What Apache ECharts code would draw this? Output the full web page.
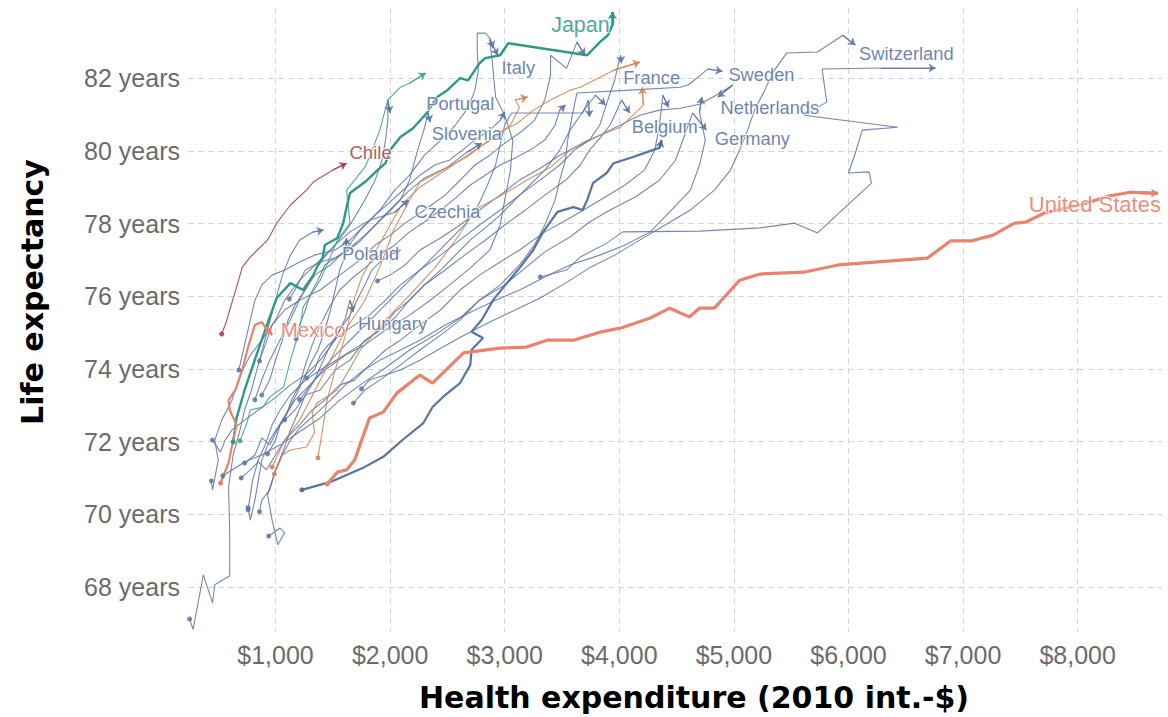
<!DOCTYPE html>
<html>
<head>
<meta charset="utf-8">
<title>Life expectancy vs health expenditure</title>
<script src="https://cdn.jsdelivr.net/npm/echarts@6/dist/echarts.min.js"></script>
<style>
  html, body { margin: 0; padding: 0; background: #fff; }
  #chart { width: 1168px; height: 717px; }
</style>
</head>
<body>
<div id="chart"></div>
<script>
// [health expenditure (2010 int.-$), life expectancy (years)]
const unitedStates = [[1450,70.83],[1540,71.16],[1620,71.22],[1690,71.49],[1820,72.65],[1940,72.81],[2060,73.34],[2260,73.83],[2370,73.61],[2640,74.44],[2960,74.57],[3190,74.6],[3370,74.79],[3600,74.79],[3830,75.01],[4010,75.12],[4270,75.4],[4440,75.67],[4610,75.43],[4700,75.67],[4830,75.67],[5050,76.44],[5230,76.61],[5610,76.66],[5910,76.86],[6690,77.05],[6890,77.52],[7070,77.52],[7260,77.68],[7450,78.01],[7550,78.04],[7710,78.29],[8020,78.51],[8280,78.76],[8460,78.86],[8700,78.83]]
const japan = [[630,71.99],[660,72.65],[730,73.42],[840,74.44],[950,75.43],[1010,75.95],[1130,76.36],[1240,76.17],[1330,76.58],[1360,76.8],[1410,77.05],[1430,77.41],[1540,77.6],[1590,78.01],[1620,78.45],[1650,78.84],[1780,79.14],[1890,79.47],[1960,79.66],[2000,80.02],[2090,80.38],[2200,80.62],[2320,81.04],[2410,81.48],[2500,81.67],[2610,82.0],[2680,81.94],[2780,82.41],[2830,82.55],[2960,82.63],[3030,82.96],[3720,82.63],[3830,82.99],[3900,83.18],[3940,83.46],[3940,83.82]]
const chile = [[530,74.96],[570,75.29],[600,75.62],[660,76.25],[710,76.8],[780,77.08],[930,77.54],[1010,78.01],[1130,78.51],[1270,78.92],[1330,79.14],[1500,79.47],[1620,79.66]]
const mexico = [[520,70.86],[590,71.41],[630,72.04],[660,72.46],[600,72.87],[590,73.14],[650,73.42],[710,73.97],[760,74.6],[820,75.21],[880,75.29],[910,75.15],[970,74.93]]
const belgium = [[1230,70.67],[1480,70.89],[1760,71.27],[1940,71.58],[2110,72.05],[2290,72.51],[2370,72.95],[2480,73.28],[2610,73.61],[2700,74.11],[2710,74.52],[2810,74.85],[2710,75.02],[2800,75.35],[2900,75.9],[2990,76.25],[3130,76.78],[3250,77.27],[3330,77.74],[3460,78.32],[3600,78.45],[3680,78.37],[3720,78.65],[3770,79.11],[3890,79.39],[3950,79.66],[4120,79.83],[4290,80.02],[4350,80.08],[4370,80.29]]
const czechia = [[440,70.92],[450,70.67],[500,71.49],[470,72.04],[530,72.59],[620,73.14],[690,73.83],[780,74.38],[880,74.79],[1000,75.34],[1080,75.89],[1210,76.44],[1370,76.94],[1520,77.41],[1650,77.77],[1820,78.09],[2040,78.31],[2160,78.64]]
const hungary = [[450,72.04],[520,71.71],[560,72.04],[620,72.32],[730,72.59],[850,72.87],[970,73.14],[1130,73.56],[1260,73.83],[1390,74.24],[1520,74.79],[1610,75.4],[1650,75.89],[1680,75.56]]
const germany = [[540,71.06],[620,71.22],[730,71.44],[880,71.63],[1040,71.91],[1210,72.27],[1390,72.65],[1560,73.14],[1740,73.56],[1960,74.03],[2170,74.52],[2390,74.93],[2610,75.4],[2780,75.89],[3000,76.31],[3180,76.78],[3350,77.22],[3570,77.63],[3740,78.04],[3920,78.37],[4140,78.73],[4350,79.19],[4490,79.74],[4570,80.43],[4640,81.04],[4760,80.57]]
const italy = [[680,73.97],[720,74.52],[760,75.07],[820,75.89],[880,76.31],[970,76.58],[1080,76.72],[1210,76.94],[1340,77.13],[1520,77.27],[1650,77.54],[1780,77.96],[1910,78.37],[2040,78.92],[2170,79.33],[2300,79.88],[2440,80.29],[2570,80.71],[2680,81.18],[2740,81.67],[2770,82.22],[2760,82.77],[2760,83.24],[2830,83.24],[2870,83.1],[2900,82.83]]
const slovenia = [[1120,75.92],[1170,76.17],[1260,76.72],[1390,76.94],[1520,77.05],[1650,77.33],[1780,77.68],[1910,78.09],[2040,78.51],[2170,78.92],[2300,79.25],[2500,79.55],[2670,79.96],[2800,80.21]]
const portugal = [[1180,74.83],[1210,75.21],[1260,75.62],[1300,76.03],[1370,76.44],[1430,76.86],[1520,77.05],[1630,77.25],[1740,77.52],[1870,77.95],[2000,78.35],[2090,78.65],[2170,79.2],[2240,80.02],[2300,80.63],[2330,81.04],[2350,80.79]]
const france = [[1270,73.75],[1340,73.97],[1390,74.38],[1460,74.66],[1560,74.93],[1690,75.21],[1820,75.48],[1960,75.89],[2090,76.31],[2260,76.72],[2440,77.13],[2610,77.55],[2780,77.96],[2960,78.37],[3130,78.78],[3310,79.2],[3480,79.61],[3610,80.02],[3740,80.3],[3830,80.71],[3900,81.4],[3960,81.95],[4010,82.63],[4020,82.41]]
const sweden = [[1680,73.06],[1780,73.42],[1910,73.69],[2090,74.11],[2260,74.52],[2440,74.93],[2610,75.34],[2780,75.89],[2960,76.31],[3130,76.86],[3260,77.41],[3350,77.96],[3440,78.65],[3480,79.2],[3530,79.75],[3550,80.3],[3590,80.98],[3630,81.59],[4090,81.67],[4530,81.75],[4600,81.81],[4690,82.03],[4770,82.25],[4900,82.19]]
const switzerland = [[1750,73.45],[1820,73.7],[1960,73.83],[2090,73.97],[2260,74.24],[2440,74.57],[2650,74.93],[2870,75.29],[3090,75.62],[3310,75.95],[3530,76.36],[3740,76.78],[3960,77.13],[4180,77.55],[4400,77.96],[4620,78.37],[4830,78.92],[4970,79.47],[5050,80.02],[5120,80.57],[5180,81.12],[5270,81.67],[5340,82.16],[5460,82.69],[5730,82.72],[5950,83.18],[6060,82.91]]
const netherlands = [[1890,76.42],[2000,76.58],[2130,76.86],[2260,77.27],[2440,77.6],[2610,77.96],[2780,78.37],[2960,78.78],[3130,79.2],[3310,79.52],[3480,79.88],[3660,80.16],[3830,80.43],[4010,80.71],[4180,80.98],[4350,81.12],[4530,81.17],[4700,81.28],[4830,81.5],[4990,81.81],[4860,81.48]]
const poland = [[930,71.66],[1000,72.04],[1040,72.46],[1110,72.87],[1180,73.28],[1240,73.69],[1300,74.11],[1370,74.52],[1430,75.07],[1480,75.62],[1520,76.17],[1560,76.72],[1610,77.13],[1620,77.6]]
// unlabelled trajectories
const trail01 = [[250,67.12],[280,66.83],[370,68.33],[450,67.56],[470,68.06],[600,68.31],[600,69.49],[590,70.75],[630,71.63],[690,72.32],[730,72.87],[790,73.42],[860,74.24],[930,75.07],[1000,75.89],[1060,76.58],[1130,77.13],[1210,77.54],[1320,77.76],[1420,77.82]]
const trail02 = [[700,71.0],[780,71.22],[850,71.44],[920,71.22],[1000,71.63],[1080,72.04],[1210,72.46],[1320,72.87],[1430,73.14],[1560,73.56],[1690,73.69],[1820,74.11],[1960,74.52],[2090,74.79],[2260,75.21],[2440,75.62],[2610,76.17],[2780,76.58],[2960,76.94],[3130,77.27],[3350,77.77],[3570,78.15],[3830,78.64],[4050,79.06],[4220,79.47],[4310,80.02],[4350,80.71],[4380,81.53],[4430,81.2]]
const trail03 = [[730,71.41],[820,71.63],[880,72.1],[950,71.91],[1040,72.46],[1170,72.87],[1260,73.28],[1390,73.42],[1520,73.97],[1650,74.24],[1780,74.79],[1910,75.07],[2040,75.56],[2170,75.89],[2300,76.31],[2480,76.72],[2650,77.13],[2830,77.54],[3000,77.96],[3180,78.37],[3350,78.78],[3530,79.19],[3660,79.61],[3740,80.02],[3830,80.35],[3920,80.71],[4020,81.4],[4090,81.04]]
const trail04 = [[760,70.18],[780,69.84],[820,70.39],[850,70.94],[880,71.49],[950,72.04],[1060,72.59],[1170,73.14],[1300,73.56],[1430,73.97],[1610,74.38],[1780,74.66],[1960,75.07],[2170,75.48],[2350,75.89],[2520,76.31],[2700,76.78],[2870,77.27],[2960,77.96],[3000,78.64],[3050,79.47],[3070,80.29],[3000,80.98],[2920,81.48],[2890,82.5],[2870,83.05],[2940,82.63]]
const trail05 = [[860,70.07],[880,70.39],[950,70.67],[1000,71.22],[1060,71.63],[1130,72.04],[1210,72.37],[1340,72.73],[1480,73.14],[1610,73.56],[1750,73.92],[1910,74.24],[2090,74.52],[2260,74.79],[2480,75.21],[2700,75.56],[2920,75.89],[3130,76.17],[3350,76.53],[3570,76.86],[3830,77.13],[4050,77.41],[4270,77.77],[4440,78.32],[4620,78.92],[4700,79.61],[4750,80.29],[4700,81.07],[4720,81.48]]
const trail06 = [[940,69.4],[1040,69.62],[1080,69.49],[1020,69.16],[970,69.84],[930,70.53],[1000,71.22],[1070,71.77],[1130,72.32],[1200,72.82],[1260,73.28],[1340,73.69],[1410,74.19],[1480,74.66],[1560,75.07],[1650,75.48],[1720,75.95],[1780,76.31],[1840,76.72],[1910,76.94],[2000,77.13],[2090,77.27]]
const trail07 = [[860,74.22],[910,74.66],[970,75.21],[1080,75.62],[1210,75.89],[1390,76.17],[1560,76.58],[1740,77.0],[1870,77.41],[2000,77.68],[2130,78.01],[2300,78.37],[2480,78.78],[2610,79.19],[2740,79.61],[2870,79.88],[3000,80.21],[3130,80.49],[3260,80.84],[3350,81.4],[3400,82.08],[3400,82.63],[3540,82.27],[3630,82.99],[3700,82.63]]
const trail08 = [[3310,76.53],[3540,76.72],[3660,77.08],[3890,77.46],[4030,77.77],[4700,77.79],[5230,77.88],[5530,78.01],[5730,77.74],[6200,79.11],[6180,79.42],[6000,79.39],[6060,79.94],[6120,80.57],[6430,80.65],[5610,80.98],[5810,81.34],[5770,82.25],[6280,82.28],[6760,82.28]]
const trail09 = [[820,73.15],[880,73.7],[950,74.24],[1040,74.8],[1130,75.35],[1210,75.9],[1300,76.45],[1390,76.94],[1520,77.41],[1650,77.96],[1780,78.65],[1870,79.2],[1930,79.75],[1960,80.3],[1980,80.85],[1980,81.4],[2000,81.04]]
const trail10 = [[760,70.12],[800,70.94],[850,71.5],[910,71.91],[970,72.46],[1040,72.87],[1130,73.28],[1260,73.69],[1390,73.97],[1560,74.3],[1740,74.66],[1910,75.07],[2040,75.4],[2170,75.9],[2300,76.31],[2440,76.72],[2570,77.13],[2700,77.55],[2830,77.88],[2960,78.23],[3090,78.65],[3220,79.06],[3350,79.47],[3480,80.02],[3570,80.57],[3660,80.98],[3790,81.53],[3880,81.26]]
const trail11 = [[1080,72.6],[1140,73.15],[1210,73.56],[1260,74.11],[1320,74.66],[1390,75.21],[1480,75.76],[1560,76.17],[1670,76.5],[1780,76.78],[1910,77.13],[2040,77.41],[2170,77.77],[2300,78.04],[2440,78.37],[2570,78.7],[2700,79.06],[2830,79.33],[2960,79.61],[3090,79.8],[3220,80.02],[3350,80.3],[3440,80.71],[3480,81.12],[3530,81.26]]
const trail12 = [[880,73.28],[950,73.7],[1000,74.24],[1060,74.8],[1110,75.35],[1170,75.76],[1260,76.17],[1340,76.58],[1480,76.86],[1610,77.27],[1740,77.82],[1870,78.23],[2020,78.65],[2130,78.97],[2260,79.33],[2390,79.61],[2520,79.75],[2630,80.02],[2740,80.3],[2870,80.57],[2960,80.84],[3000,81.07]]
const trail13 = [[1210,73.15],[1340,73.7],[1480,74.24],[1610,74.66],[1740,75.07],[1870,75.48],[2000,75.9],[2130,76.31],[2260,76.72],[2390,77.13],[2520,77.55],[2650,77.96],[2770,78.51],[2850,79.06],[2920,79.61],[2960,80.16],[3000,80.71],[3060,81.04],[3400,81.04],[3680,81.04],[3730,81.4],[3740,80.93]]
const trailTeal = [[690,72.02],[750,72.51],[780,72.87],[890,72.95],[950,73.23],[1070,73.5],[1130,74.24],[1210,75.07],[1240,75.7],[1390,76.44],[1540,77.54],[1650,78.01],[1620,78.92],[1780,79.55],[1820,79.83],[1910,80.57],[1980,81.4],[2090,81.75],[2170,81.86],[2310,82.14]]
const trailOrangeA = [[970,71.3],[1080,72.04],[1210,72.59],[1390,73.69],[1610,75.07],[1780,75.89],[1910,76.8],[2030,77.82],[2170,78.64],[2260,79.14],[2410,79.39],[2670,79.83],[2780,80.1],[2960,80.52],[3110,80.76],[3250,81.12],[3400,81.4],[3570,81.67],[3660,81.75],[3950,82.22],[4180,82.44]]
const trailOrangeB = [[990,71.11],[1060,71.63],[1130,71.77],[1270,71.85],[1340,72.24],[1320,72.79],[1360,73.06],[1540,73.42],[1590,73.69],[1740,74.52],[1960,75.34],[2170,76.03],[2390,76.78],[2570,77.54],[2700,78.15],[2780,78.45],[3020,78.86],[3190,79.19],[3400,79.55],[3570,80.02],[3720,80.29],[4010,80.65],[4210,81.26],[4200,81.75]]
const trailOrangeC = [[1370,71.55],[1410,72.32],[1450,73.14],[1520,73.97],[1610,74.93],[1670,75.76],[1750,76.5],[1870,77.22],[2000,77.96],[2100,78.51],[2260,79.0],[2520,79.55],[2740,80.02],[2920,80.38],[3050,80.71],[3130,81.2],[3090,81.4],[3200,81.48]]

const xTicks = [1000, 2000, 3000, 4000, 5000, 6000, 7000, 8000]
const yTicks = [68, 70, 72, 74, 76, 78, 80, 82]

const styles = {
  blue: { color: "#5a72a3", width: 1.1, opacity: 0.85, z: 2, label: "#46649a", labelSize: 18.3 },
  blueThick: { color: "#4f6ba0", width: 2.2, opacity: 0.95, z: 3, label: "#46649a", labelSize: 18.3 },
  orange: { color: "#cf8656", width: 1.1, opacity: 0.9, z: 3, label: "#c0703f", labelSize: 18.3 },
  tealThin: { color: "#3fa48c", width: 1.1, opacity: 0.9, z: 3, label: "#23917a", labelSize: 18.3 },
  teal: { color: "#2b9b84", width: 2.4, opacity: 1, z: 4, label: "#21927a", labelSize: 21.5 },
  chile: { color: "#a6403f", width: 1.1, opacity: 0.9, z: 4, label: "#9a3034", labelSize: 18.6 },
  salmon: { color: "#e9836c", width: 2.2, opacity: 1, z: 5, label: "#e4705a", labelSize: 20.5 },
  salmonThick: { color: "#e9836c", width: 3.2, opacity: 1, z: 5, label: "#e4705a", labelSize: 22 }
}

const trajectories = [
  { name: "trail01", points: trail01, kind: "blue" },
  { name: "trail02", points: trail02, kind: "blue" },
  { name: "trail03", points: trail03, kind: "blue" },
  { name: "trail04", points: trail04, kind: "blue" },
  { name: "trail05", points: trail05, kind: "blue" },
  { name: "trail06", points: trail06, kind: "blue" },
  { name: "trail07", points: trail07, kind: "blue" },
  { name: "trail08", points: trail08, kind: "blue" },
  { name: "trail09", points: trail09, kind: "blue" },
  { name: "trail10", points: trail10, kind: "blue" },
  { name: "trail11", points: trail11, kind: "blue" },
  { name: "trail12", points: trail12, kind: "blue" },
  { name: "trail13", points: trail13, kind: "blue" },
  { name: "Czechia", points: czechia, kind: "blue" },
  { name: "Hungary", points: hungary, kind: "blue" },
  { name: "Germany", points: germany, kind: "blue" },
  { name: "Italy", points: italy, kind: "blue" },
  { name: "Slovenia", points: slovenia, kind: "blue" },
  { name: "Portugal", points: portugal, kind: "blue" },
  { name: "France", points: france, kind: "blue" },
  { name: "Sweden", points: sweden, kind: "blue" },
  { name: "Switzerland", points: switzerland, kind: "blue" },
  { name: "Netherlands", points: netherlands, kind: "blue" },
  { name: "Poland", points: poland, kind: "blue" },
  { name: "Belgium", points: belgium, kind: "blueThick" },
  { name: "trailOrangeA", points: trailOrangeA, kind: "orange" },
  { name: "trailOrangeB", points: trailOrangeB, kind: "orange" },
  { name: "trailOrangeC", points: trailOrangeC, kind: "orange" },
  { name: "trailTeal", points: trailTeal, kind: "tealThin" },
  { name: "Chile", points: chile, kind: "chile" },
  { name: "Japan", points: japan, kind: "teal" },
  { name: "Mexico", points: mexico, kind: "salmon" },
  { name: "United States", points: unitedStates, kind: "salmonThick" }
]

// label centre relative to the trajectory's last point, in pixels
const labelOffsets = {
  "Japan": [-32, 13],
  "Chile": [24, -11],
  "Mexico": [41, -6],
  "United States": [-63, 11],
  "Italy": [25, 20],
  "Portugal": [30, -19],
  "Slovenia": [-15, -10],
  "France": [30, 14],
  "Sweden": [39, 3],
  "Switzerland": [51, 8],
  "Netherlands": [52, 10],
  "Belgium": [3, -14],
  "Germany": [46, 8],
  "Czechia": [39, 11],
  "Poland": [24, 15],
  "Hungary": [39, 11]
}

const last = (pts) => pts[pts.length - 1]

var dom = document.getElementById("chart")
var myChart = echarts.init(dom, null, { renderer: "svg", width: 1168, height: 717 })

const lineSeries = trajectories.map((t) => {
  const s = styles[t.kind]
  return {
    type: "line",
    name: t.name,
    data: t.points,
    showSymbol: false,
    symbol: "none",
    silent: true,
    z: s.z,
    lineStyle: { color: s.color, width: s.width, opacity: s.opacity }
  }
})

const startDots = {
  type: "scatter",
  silent: true,
  symbolSize: 5,
  z: 6,
  data: trajectories.map((t) => ({
    value: t.points[0],
    itemStyle: { color: styles[t.kind].color, opacity: styles[t.kind].opacity }
  }))
}

const endArrows = {
  type: "lines",
  coordinateSystem: "cartesian2d",
  silent: true,
  symbol: ["none", "arrow"],
  symbolSize: 7,
  z: 6,
  data: trajectories.map((t) => {
    const n = t.points.length
    const s = styles[t.kind]
    return {
      coords: [t.points[n - 2], t.points[n - 1]],
      lineStyle: { color: s.color, width: s.width, opacity: s.opacity }
    }
  })
}

const labelSeries = {
  type: "scatter",
  silent: true,
  symbolSize: 1,
  z: 10,
  itemStyle: { color: "transparent" },
  data: trajectories
    .filter((t) => labelOffsets[t.name])
    .map((t) => ({
      name: t.name,
      value: last(t.points),
      label: {
        show: true,
        formatter: t.name,
        position: "inside",
        align: "center",
        verticalAlign: "middle",
        offset: labelOffsets[t.name],
        color: styles[t.kind].label,
        fontSize: styles[t.kind].labelSize,
        fontFamily: "Liberation Sans, Arial, sans-serif",
        textBorderColor: "#fff",
        textBorderWidth: 2
      }
    }))
}

const gridLine = {
  show: true,
  showMinLine: false,
  showMaxLine: false,
  lineStyle: { color: "#d5d5d5", width: 1, type: [6, 4] }
}

var option = {
  animation: false,
  backgroundColor: "#fff",
  grid: { left: 188, right: 6, top: 8, bottom: 85, containLabel: false },
  xAxis: {
    type: "value",
    min: 236,
    max: 8736,
    splitNumber: 8,
    axisLine: { show: false },
    axisTick: { show: false },
    splitLine: gridLine,
    axisLabel: {
      showMinLabel: false,
      showMaxLabel: false,
      margin: 10,
      fontSize: 25,
      color: "#6b6b6b",
      fontFamily: "Liberation Sans, Arial, sans-serif",
      formatter: (v) => (xTicks.includes(Math.round(v)) && Math.abs(v - Math.round(v)) < 1e-6
        ? "$" + Math.round(v).toLocaleString("en-US") : "")
    }
  },
  yAxis: {
    type: "value",
    min: 66.76,
    max: 83.93,
    splitNumber: 8,
    axisLine: { show: false },
    axisTick: { show: false },
    splitLine: gridLine,
    axisLabel: {
      showMinLabel: false,
      showMaxLabel: false,
      margin: 8,
      fontSize: 25,
      color: "#6b6b6b",
      fontFamily: "Liberation Sans, Arial, sans-serif",
      formatter: (v) => (yTicks.includes(Math.round(v)) && Math.abs(v - Math.round(v)) < 1e-6
        ? Math.round(v) + " years" : "")
    }
  },
  graphic: [
    {
      type: "text",
      x: 694,
      y: 697,
      silent: true,
      style: {
        text: "Health expenditure (2010 int.-$)",
        fill: "#000",
        font: "bold 30px 'DejaVu Sans', sans-serif",
        align: "center",
        verticalAlign: "middle"
      }
    },
    {
      type: "text",
      x: 32,
      y: 292,
      rotation: Math.PI / 2,
      silent: true,
      style: {
        text: "Life expectancy",
        fill: "#000",
        font: "bold 30px 'DejaVu Sans', sans-serif",
        align: "center",
        verticalAlign: "middle"
      }
    }
  ],
  series: [...lineSeries, startDots, endArrows, labelSeries]
}

if (option && typeof option === "object") {
  myChart.setOption(option)
}

window.addEventListener("resize", myChart.resize)
</script>
</body>
</html>
